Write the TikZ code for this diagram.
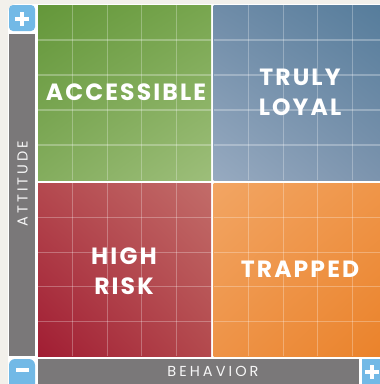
\documentclass[tikz,border=0pt]{standalone}
\usepackage{fontspec}
\usetikzlibrary{shadings}
\setmainfont{Poppins}
\newfontfamily\axisfont[LetterSpace=21]{Poppins}
\newfontfamily\quadfont[LetterSpace=9]{Poppins}
\definecolor{pagebg}{HTML}{F2F0EB}
\definecolor{signblue}{HTML}{72B9E6}
\definecolor{bargray}{HTML}{7A7879}
% quadrant corner colours
\definecolor{gUL}{HTML}{64973A}\definecolor{gUR}{HTML}{78A64F}
\definecolor{gLL}{HTML}{84AD5E}\definecolor{gLR}{HTML}{9DBE7A}
\definecolor{bUL}{HTML}{6F8CA8}\definecolor{bUR}{HTML}{557C9B}
\definecolor{bLL}{HTML}{97AAC0}\definecolor{bLR}{HTML}{7B93AD}
\definecolor{rUL}{HTML}{B4494F}\definecolor{rUR}{HTML}{C26C69}
\definecolor{rLL}{HTML}{A11D33}\definecolor{rLR}{HTML}{B3494D}
\definecolor{oUL}{HTML}{F2A563}\definecolor{oUR}{HTML}{EF9548}
\definecolor{oLL}{HTML}{EE9347}\definecolor{oLR}{HTML}{EA822A}
\begin{document}
\begin{tikzpicture}[x=1pt,y=-1pt,
  quadlabel/.style={text=white,font=\quadfont\bfseries\fontsize{23.5}{30}\selectfont,align=center,inner sep=0pt},
  axislabel/.style={text=white!94!gray,font=\axisfont\fontsize{14.5}{16}\selectfont,inner sep=0pt},
  gridline/.style={white,opacity=0.28,line width=1.1pt},
  signbox/.style={fill=signblue},
  signstroke/.style={white,line width=3.4pt},
  bar/.style={fill=bargray}]
\useasboundingbox (0,0) rectangle (380,384);
\clip (0,0) rectangle (380,384);
\fill[pagebg] (0,0) rectangle (380,384);
\fill[white,rounded corners=8pt] (8,4) rectangle (420,430);

% quadrants
\shade[upper left=gUL,upper right=gUR,lower left=gLL,lower right=gLR]
  (38,5) rectangle (211,180);
\shade[upper left=bUL,upper right=bUR,lower left=bLL,lower right=bLR]
  (213.5,5) rectangle (386,180);
\shade[upper left=rUL,upper right=rUR,lower left=rLL,lower right=rLR]
  (38,183) rectangle (211,356);
\shade[upper left=oUL,upper right=oUR,lower left=oLL,lower right=oLR]
  (213.5,183) rectangle (386,356);

% grid lines inside each quadrant
\foreach \k in {1,...,4}{
  \draw[gridline] ({38+\k*34.6},5) -- ({38+\k*34.6},180);
  \draw[gridline] ({38+\k*34.6},183) -- ({38+\k*34.6},356);
  \draw[gridline] ({213.5+\k*34.8},5) -- ({213.5+\k*34.8},180);
  \draw[gridline] ({213.5+\k*34.8},183) -- ({213.5+\k*34.8},356);
  \draw[gridline] (38,{5+\k*35}) -- (211,{5+\k*35});
  \draw[gridline] (213.5,{5+\k*35}) -- (386,{5+\k*35});
  \draw[gridline] (38,{183+\k*34.6}) -- (211,{183+\k*34.6});
  \draw[gridline] (213.5,{183+\k*34.6}) -- (386,{183+\k*34.6});
}

% axis bars and sign boxes
\fill[signbox,rounded corners=4pt] (9,31) |- (35,5) -- (35,31) -- cycle;
\fill[bar] (9,33.5) rectangle (35,356);
\fill[signbox,rounded corners=6pt] (35,359) -| (9,392) -- (35,392) -- cycle;
\fill[bar] (38,359) rectangle (359,392);
\fill[signbox] (362,359) rectangle (388,392);

\draw[signstroke] (15,19) -- (29,19) (22,12) -- (22,26);
\draw[signstroke] (16,370) -- (29,370);
\draw[signstroke] (365,372) -- (379,372) (372,365) -- (372,379);

% labels
\node[quadlabel] (acc) at (126,92.5) {ACCESSIBLE};
\node[quadlabel] (loyal) at (300,92.5) {TRULY\\LOYAL};
\node[quadlabel] (risk) at (124,271) {HIGH\\RISK};
\node[quadlabel] (trap) at (300,269) {TRAPPED};
\node[axislabel,rotate=90] (att) at (22.5,183.5) {ATTITUDE};
\node[axislabel] (beh) at (213,371) {BEHAVIOR};
\end{tikzpicture}
\end{document}
